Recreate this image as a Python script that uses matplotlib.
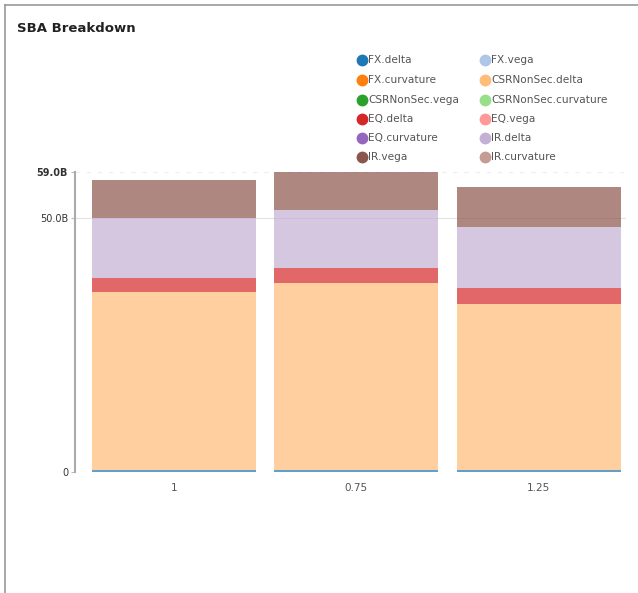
import matplotlib
matplotlib.use("Agg")
from matplotlib import pyplot as plt
from matplotlib.lines import Line2D
import numpy as np

# scenarios on the x axis
scenarios = ["1", "0.75", "1.25"]

# risk measures, in stacking order
measures = ["FX.delta", "FX.vega", "FX.curvature", "CSRNonSec.delta",
            "CSRNonSec.vega", "CSRNonSec.curvature", "EQ.delta", "EQ.vega",
            "EQ.curvature", "IR.delta", "IR.vega", "IR.curvature"]

colors = ["#1f77b4", "#aec7e8", "#ff7f0e", "#ffbb78", "#2ca02c", "#98df8a",
          "#d62728", "#ff9896", "#9467bd", "#c5b0d5", "#8c564b", "#c49c94"]

# values in billions, one list per measure
fx_delta = [0.4, 0.4, 0.4]
fx_vega = [0, 0, 0]
fx_curvature = [0, 0, 0]
csr_delta = [34.9, 36.8, 32.7]
csr_vega = [0, 0, 0]
csr_curvature = [0, 0, 0]
eq_delta = [2.75, 3.0, 3.05]
eq_vega = [0, 0, 0]
eq_curvature = [0, 0, 0]
ir_delta = [11.95, 11.4, 12.0]
ir_vega = [7.5, 7.45, 7.8]
ir_curvature = [0, 0, 0]

series = [fx_delta, fx_vega, fx_curvature, csr_delta, csr_vega, csr_curvature,
          eq_delta, eq_vega, eq_curvature, ir_delta, ir_vega, ir_curvature]

W, H = 638, 593
fig = plt.figure(figsize=(W / 100, H / 100), dpi=100)
fig.patch.set_facecolor("white")

# outer frame (top and left only)
fig.add_artist(Line2D([5 / W, 1], [1 - 5 / H, 1 - 5 / H], color="#9a9a9a", lw=1.2))
fig.add_artist(Line2D([5 / W, 5 / W], [0, 1 - 5 / H], color="#9a9a9a", lw=1.2))

fig.text(17 / W, 1 - 29 / H, "SBA Breakdown", fontsize=9.5, fontweight="bold",
         color="#222222", va="center", ha="left")

left, right, bottom, top = 75, 626, 472, 171.7
ax = fig.add_axes([left / W, 1 - bottom / H, (right - left) / W, (bottom - top) / H])

x = np.arange(len(scenarios))
base = np.zeros(len(scenarios))
for name, vals, c in zip(measures, series, colors):
    vals = np.array(vals, dtype=float)
    ax.bar(x, vals, bottom=base, width=0.9, color=c, alpha=0.7, linewidth=0)
    base = base + vals

total_max = base.max()
ax.set_ylim(0, total_max)
ax.set_xlim(-0.544, 2.48)

ax.set_yticks([0, 50, total_max])
ax.set_yticklabels(["0", "50.0B", "%.1fB" % total_max])
ax.set_xticks(x)
ax.set_xticklabels(scenarios)
ax.tick_params(axis="y", length=3, color="#bbbbbb", labelsize=7, labelcolor="#333333", pad=2)
ax.tick_params(axis="x", length=0, labelsize=7.5, labelcolor="#555555", pad=8)
ax.get_yticklabels()[-1].set_fontweight("bold")

ax.axhline(50, color="#e2e2e2", lw=0.8, zorder=0)
ax.axhline(total_max, color="#eeeeee", lw=0.8, zorder=0, ls=(0, (4, 6)))

for s in ["top", "right", "bottom"]:
    ax.spines[s].set_visible(False)
ax.spines["left"].set_color("#aaaaaa")
ax.spines["left"].set_linewidth(1.5)

# legend in two columns, placed by hand
col_x = [362, 485]
row_y = [60, 80, 100, 119, 138, 157]
for i, (name, c) in enumerate(zip(measures, colors)):
    cx = col_x[i % 2]
    cy = row_y[i // 2]
    fig.add_artist(Line2D([cx / W], [1 - cy / H], marker="o", markersize=7.5,
                          color=c, linestyle="none"))
    fig.text((cx + 6) / W, 1 - cy / H, name, fontsize=7.6, color="#555555",
             va="center", ha="left")

fig.savefig("out.png", dpi=100)
